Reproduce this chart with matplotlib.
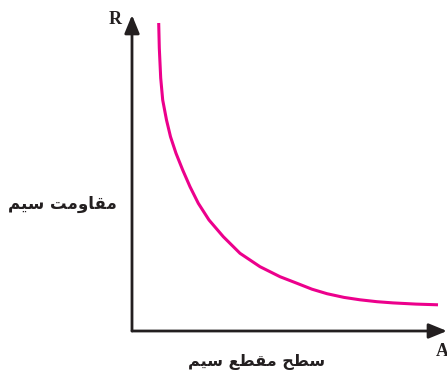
import matplotlib
matplotlib.use("Agg")
import matplotlib.pyplot as plt
from matplotlib.patches import ArrowStyle

# ---- data (arbitrary units) ----
area = [26.7, 27.3, 28.7, 30.7, 34.5, 38.5, 44.0, 50.7, 58.0, 66.3, 77.0,
        91.3, 108.0, 128.0, 148.0, 165.0, 180.0, 195.0, 212.0, 228.0, 245.0,
        261.0, 284.0, 306.0]
resistance = [308, 283, 253, 231, 211, 194.3, 177.7, 161, 144.3, 127.7, 111,
              94.3, 77.7, 64.3, 54.3, 47.7, 41.8, 37.3, 33.6, 31.2, 29.3,
              28.1, 26.9, 26.2]

x_label = "سطح مقطع سیم"
y_label = "مقاومت سیم"
x_symbol = "A"
y_symbol = "R"

# ---- minimal Arabic/Persian shaping (matplotlib has no complex text layout) ----
FORMS = {
    # char: (isolated, final, initial, medial)  None => does not join forward
    "\u0627": ("\uFE8D", "\uFE8E", None, None),
    "\u0648": ("\uFEED", "\uFEEE", None, None),
    "\u0645": ("\uFEE1", "\uFEE2", "\uFEE3", "\uFEE4"),
    "\u0642": ("\uFED5", "\uFED6", "\uFED7", "\uFED8"),
    "\u062A": ("\uFE95", "\uFE96", "\uFE97", "\uFE98"),
    "\u0633": ("\uFEB1", "\uFEB2", "\uFEB3", "\uFEB4"),
    "\u06CC": ("\uFBFC", "\uFBFD", "\uFBFE", "\uFBFF"),
    "\u0637": ("\uFEC1", "\uFEC2", "\uFEC3", "\uFEC4"),
    "\u062D": ("\uFEA1", "\uFEA2", "\uFEA3", "\uFEA4"),
    "\u0639": ("\uFEC9", "\uFECA", "\uFECB", "\uFECC"),
}


def shape(text):
    out = []
    n = len(text)
    for i, ch in enumerate(text):
        if ch not in FORMS:
            out.append(ch)
            continue
        prev = text[i - 1] if i > 0 else None
        nxt = text[i + 1] if i < n - 1 else None
        joins_prev = prev in FORMS and FORMS[prev][2] is not None
        joins_next = nxt in FORMS and FORMS[ch][2] is not None
        iso, fin, ini, med = FORMS[ch]
        if joins_prev and joins_next:
            out.append(med)
        elif joins_prev:
            out.append(fin)
        elif joins_next:
            out.append(ini)
        else:
            out.append(iso)
    return "".join(reversed(out))


W, H = 447, 376
fig = plt.figure(figsize=(W / 100, H / 100), dpi=100)
ax = fig.add_axes([132 / W, 45 / H, 315 / W, 316 / H])
ax.set_xlim(0, 315)
ax.set_ylim(0, 316)
ax.axis("off")

axis_color = "#231f20"
style = ArrowStyle("-|>", head_length=1.1, head_width=0.45)
ax.annotate("", xy=(315, 0), xytext=(0, 0),
            arrowprops=dict(arrowstyle=style, mutation_scale=10, lw=2.0,
                            color=axis_color, shrinkA=0, shrinkB=0),
            annotation_clip=False)
ax.annotate("", xy=(0, 316), xytext=(0, 0),
            arrowprops=dict(arrowstyle=style, mutation_scale=10, lw=2.0,
                            color=axis_color, shrinkA=0, shrinkB=0),
            annotation_clip=False)

ax.plot(area, resistance, color="#ec008c", lw=2.2, solid_capstyle="butt",
        solid_joinstyle="round", clip_on=False)

ax.text(-17, 311, y_symbol, family="Liberation Serif", weight="bold",
        fontsize=13, color=axis_color, ha="center", va="center", clip_on=False)
ax.text(310, -21, x_symbol, family="Liberation Serif", weight="bold",
        fontsize=13, color=axis_color, ha="center", va="center", clip_on=False)

ax.text(-70, 127, shape(y_label), family=["DejaVu Sans"], weight="bold",
        fontsize=12, color=axis_color, ha="center", va="center", clip_on=False)
ax.text(125, -31, shape(x_label), family=["DejaVu Sans"], weight="bold",
        fontsize=11.5, color=axis_color, ha="center", va="center", clip_on=False)

fig.savefig("out.png", dpi=100)
